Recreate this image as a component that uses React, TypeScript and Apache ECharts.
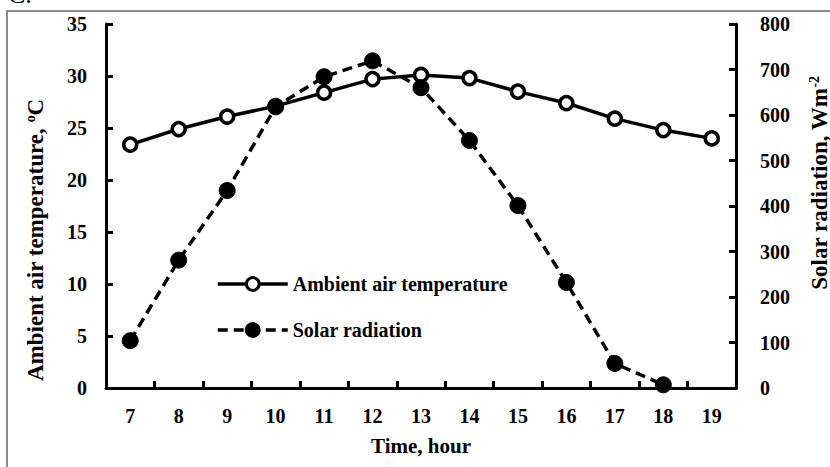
import React, { useEffect, useRef } from "react";
import * as echarts from "echarts";

const hours = ["7", "8", "9", "10", "11", "12", "13", "14", "15", "16", "17", "18", "19"];
const ambientTemp = [23.4, 24.9, 26.1, 27.1, 28.4, 29.7, 30.1, 29.8, 28.5, 27.4, 25.9, 24.8, 24.0];
const solarRadiation: (number | null)[] = [104, 281, 434, 618, 684, 719, 660, 544, 401, 232, 54, 7, null];
const tempTicks = { min: 0, max: 35, interval: 5 };
const solarTicks = { min: 0, max: 800, interval: 100 };

const FONT = "'Liberation Serif', 'Times New Roman', serif";

export default function App() {
  const ref = useRef<HTMLDivElement>(null);
  useEffect(() => {
    if (!ref.current) return;
    const chart = echarts.init(ref.current, null, { renderer: "svg" });
    const txt = { fontFamily: FONT, fontWeight: "bold" as const, fontSize: 20, color: "#000" };
    const title = { fontFamily: FONT, fontWeight: "bold" as const, fontSize: 23, fill: "#000" };
    const sup = { fontFamily: FONT, fontWeight: "bold" as const, fontSize: 14, fill: "#000", verticalAlign: "top" as const };
    const axisLine = { show: true, lineStyle: { color: "#000", width: 3 } };
    const axisTick = { show: true, inside: true, length: 7, lineStyle: { color: "#000", width: 3 } };
    chart.setOption({
      animation: false,
      backgroundColor: "#fff",
      graphic: [
        {
          type: "rect",
          shape: { x: 7, y: 11, width: 900, height: 600 },
          style: { fill: "none", stroke: "#8c8c8c", lineWidth: 2 },
          silent: true,
        },
        {
          type: "text",
          x: 8,
          y: 7,
          style: {
            text: "C.",
            fontFamily: FONT,
            fontSize: 26,
            fill: "#000",
            align: "left",
            verticalAlign: "bottom",
          },
        },
        {
          type: "text",
          x: 35,
          y: 240,
          rotation: Math.PI / 2,
          style: {
            text: "{a|Ambient air temperature, }{s|o}{a|C}",
            align: "center",
            verticalAlign: "middle",
            ...title,
            rich: { a: { ...title }, s: { ...sup } },
          },
        },
        {
          type: "text",
          x: 819,
          y: 183,
          rotation: Math.PI / 2,
          style: {
            text: "{a|Solar radiation, Wm}{s|-2}",
            align: "center",
            verticalAlign: "middle",
            ...title,
            rich: { a: { ...title }, s: { ...sup } },
          },
        },
      ],
      grid: { left: 106, right: 94, top: 24, bottom: 79, containLabel: false },
      legend: {
        orient: "vertical",
        left: 211,
        top: 269,
        itemWidth: 70,
        itemHeight: 16,
        itemGap: 26,
        textStyle: { ...txt },
        lineStyle: { width: 3.5 },
        itemStyle: { borderWidth: 3 },
        data: ["Ambient air temperature", "Solar radiation"],
      },
      xAxis: {
        type: "category",
        data: hours,
        boundaryGap: true,
        axisLine,
        axisTick,
        splitLine: { show: false },
        axisLabel: { ...txt, margin: 18 },
        name: "Time, hour",
        nameLocation: "middle",
        nameGap: 47,
        nameTextStyle: { ...txt, fontSize: 21 },
      },
      yAxis: [
        {
          type: "value",
          min: tempTicks.min,
          max: tempTicks.max,
          interval: tempTicks.interval,
          axisLine,
          axisTick,
          splitLine: { show: false },
          axisLabel: { ...txt, margin: 19 },
        },
        {
          type: "value",
          position: "right",
          min: solarTicks.min,
          max: solarTicks.max,
          interval: solarTicks.interval,
          axisLine,
          axisTick,
          splitLine: { show: false },
          axisLabel: { ...txt, margin: 24 },
        },
      ],
      series: [
        {
          name: "Ambient air temperature",
          type: "line",
          yAxisIndex: 0,
          data: ambientTemp,
          symbol: "circle",
          symbolSize: 13,
          lineStyle: { color: "#000", width: 3.5 },
          itemStyle: { color: "#fff", borderColor: "#000", borderWidth: 3.5 },
          z: 2,
        },
        {
          name: "Solar radiation",
          type: "line",
          yAxisIndex: 1,
          data: solarRadiation,
          symbol: "circle",
          symbolSize: 16,
          lineStyle: { color: "#000", width: 3.5, type: [10, 6] },
          itemStyle: { color: "#000", borderColor: "#000" },
          z: 3,
        },
      ],
    });
    return () => chart.dispose();
  }, []);
  return (
    <div
      ref={ref}
      style={{ position: "fixed", left: 0, top: 0, width: 830, height: 467 }}
    />
  );
}
